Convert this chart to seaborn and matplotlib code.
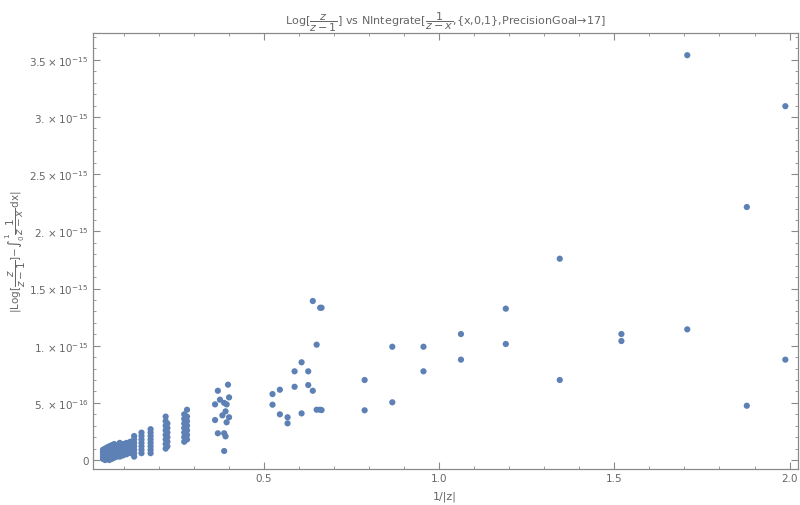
import numpy as np
import pandas as pd
import matplotlib
matplotlib.use("Agg")
import matplotlib.pyplot as plt
import seaborn as sns
from matplotlib.ticker import MultipleLocator

# 1/|z| columns and the absolute error at each (units of 1e-15)
col_x = [0.040, 0.046, 0.052, 0.058, 0.065, 0.072, 0.080, 0.088, 0.097, 0.107, 0.118,
         0.129, 0.150, 0.176, 0.219, 0.224, 0.272, 0.280,
         0.360, 0.368, 0.374, 0.381, 0.386, 0.390, 0.393, 0.397, 0.400,
         0.524, 0.545, 0.567, 0.587, 0.607, 0.626, 0.639, 0.650, 0.660, 0.664,
         0.787, 0.866, 0.955, 1.062, 1.190, 1.344, 1.520, 1.708, 1.878, 1.988]
col_y = [
    [0.01, 0.03, 0.05, 0.07, 0.09],
    [0.00, 0.02, 0.04, 0.06, 0.08, 0.10],
    [0.01, 0.03, 0.05, 0.07, 0.09, 0.11],
    [0.00, 0.02, 0.04, 0.06, 0.08, 0.10, 0.12],
    [0.01, 0.03, 0.05, 0.07, 0.09, 0.11, 0.13],
    [0.02, 0.04, 0.06, 0.08, 0.10, 0.12, 0.14],
    [0.03, 0.05, 0.07, 0.09, 0.11, 0.13],
    [0.03, 0.05, 0.07, 0.09, 0.11, 0.13, 0.15],
    [0.04, 0.06, 0.08, 0.10, 0.12, 0.14],
    [0.05, 0.07, 0.09, 0.11, 0.13, 0.15],
    [0.06, 0.08, 0.10, 0.12, 0.14, 0.16],
    [0.03, 0.06, 0.09, 0.12, 0.15, 0.18, 0.21],
    [0.06, 0.09, 0.12, 0.15, 0.18, 0.21, 0.24],
    [0.06, 0.09, 0.12, 0.15, 0.18, 0.21, 0.24, 0.27],
    [0.10, 0.14, 0.18, 0.22, 0.26, 0.30, 0.34, 0.38],
    [0.12, 0.16, 0.20, 0.24, 0.28, 0.32],
    [0.16, 0.20, 0.24, 0.28, 0.32, 0.36, 0.40],
    [0.18, 0.22, 0.26, 0.30, 0.34, 0.38, 0.44],
    [0.487, 0.350],
    [0.606, 0.234],
    [0.528],
    [0.391],
    [0.500, 0.234, 0.079],
    [0.426, 0.207],
    [0.487, 0.330],
    [0.659],
    [0.548, 0.374],
    [0.577, 0.484],
    [0.615, 0.400],
    [0.374, 0.321],
    [0.776, 0.641],
    [0.855, 0.408],
    [0.776, 0.656],
    [1.391, 0.606],
    [1.009, 0.440],
    [1.332, 0.440],
    [1.332, 0.437],
    [0.700, 0.435],
    [0.991, 0.505],
    [0.991, 0.776],
    [1.102, 0.878],
    [1.324, 1.015],
    [1.761, 0.700],
    [1.102, 1.041],
    [3.541, 1.143],
    [2.213, 0.475],
    [3.095, 0.878],
]

y_ticks = [0, 0.5e-15, 1.0e-15, 1.5e-15, 2.0e-15, 2.5e-15, 3.0e-15, 3.5e-15]
y_tick_labels = ["0", r"$5.\times10^{-16}$", r"$1.\times10^{-15}$", r"$1.5\times10^{-15}$",
                 r"$2.\times10^{-15}$", r"$2.5\times10^{-15}$", r"$3.\times10^{-15}$",
                 r"$3.5\times10^{-15}$"]
x_ticks = [0.5, 1.0, 1.5, 2.0]
x_tick_labels = ["0.5", "1.0", "1.5", "2.0"]

rows = []
for x, ys in zip(col_x, col_y):
    for y in ys:
        rows.append((x, y * 1e-15))
df = pd.DataFrame(rows, columns=["inv_z", "err"])

sns.set_style("ticks")
plt.rcParams["font.family"] = ["DejaVu Sans"]
plt.rcParams["mathtext.default"] = "regular"

fig = plt.figure(figsize=(8, 5.06), dpi=100)
ax = fig.add_axes([0.116, 0.071, 0.881, 0.862])

sns.scatterplot(data=df, x="inv_z", y="err", ax=ax, s=20, color="#5E81B5",
                edgecolor="none", linewidth=0)

ax.set_xlim(0.011, 2.023)
ax.set_ylim(-0.079e-15, 3.736e-15)

ax.set_xticks(x_ticks)
ax.set_xticklabels(x_tick_labels)
ax.set_yticks(y_ticks)
ax.set_yticklabels(y_tick_labels)
ax.xaxis.set_minor_locator(MultipleLocator(0.1))
ax.yaxis.set_minor_locator(MultipleLocator(1e-16))

frame_col = "#8a8a8a"
text_col = "#666666"
for sp in ax.spines.values():
    sp.set_visible(True)
    sp.set_color(frame_col)
    sp.set_linewidth(0.9)
ax.tick_params(which="both", direction="in", top=True, right=True,
               color=frame_col, labelcolor=text_col, labelsize=7.5)
ax.tick_params(which="major", length=5, width=0.8, pad=3)
ax.tick_params(which="minor", length=2.5, width=0.6)

ax.set_xlabel("1/|z|", color=text_col, fontsize=8, labelpad=5)
ax.set_ylabel(r"|Log[$\dfrac{\mathit{z}}{\mathit{z}-1}$]$-\int_0^1\dfrac{1}{\mathit{z}-\mathit{x}}\,dx$|",
              color=text_col, fontsize=7.5)
ax.yaxis.set_label_coords(-0.092, 0.5)
ax.set_title(r"Log[$\dfrac{\mathit{z}}{\mathit{z}-1}$] vs NIntegrate[$\dfrac{1}{\mathit{z}-\mathit{x}}$,{x,0,1},PrecisionGoal→17]",
             color=text_col, fontsize=8, pad=4)

fig.savefig("out.png", dpi=100, facecolor="white")
